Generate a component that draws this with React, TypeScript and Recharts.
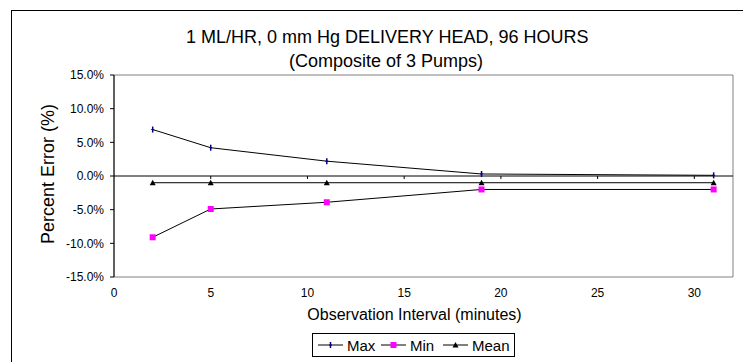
import {
  LineChart, Line, XAxis, YAxis, ReferenceLine, ReferenceArea,
} from 'recharts'

// observation interval (minutes)
const intervals = [2, 5, 11, 19, 31]
// percent error (%)
const maxErr = [6.9, 4.2, 2.2, 0.3, 0.1]
const minErr = [-9.1, -4.9, -3.9, -2.0, -2.0]
const meanErr = [-1.0, -1.0, -1.0, -1.0, -1.0]

const xTicks = [0, 5, 10, 15, 20, 25, 30]
const yTicks = [-15, -10, -5, 0, 5, 10, 15]

const data = intervals.map((x, i) => ({ x, max: maxErr[i], min: minErr[i], mean: meanErr[i] }))

const FONT = '"Liberation Sans", Arial, sans-serif'

// ── markers ───────────────────────────────────────────────

function PlusDot(props: any) {
  const { cx, cy } = props
  if (cx == null || cy == null) return null
  return (
    <g>
      <line x1={cx} y1={cy - 3} x2={cx} y2={cy + 3} stroke="#000080" strokeWidth={1.5} />
      <line x1={cx - 1.5} y1={cy} x2={cx + 1.5} y2={cy} stroke="#000080" strokeWidth={1} />
    </g>
  )
}

function SquareDot(props: any) {
  const { cx, cy } = props
  if (cx == null || cy == null) return null
  return <rect x={cx - 3} y={cy - 3} width={6} height={6} fill="#ff00ff" />
}

function TriDot(props: any) {
  const { cx, cy } = props
  if (cx == null || cy == null) return null
  return <path d={`M${cx - 3},${cy + 2.5} L${cx + 3},${cy + 2.5} L${cx},${cy - 3} Z`} fill="#000" />
}

function LegendItem({ label, kind, left }: { label: string; kind: 'max' | 'min' | 'mean'; left: number }) {
  return (
    <div style={{ position: 'absolute', left, top: 0, height: 22, display: 'flex', alignItems: 'center' }}>
      <svg width={25} height={10} style={{ marginRight: 4 }}>
        <line x1={0} y1={5} x2={25} y2={5} stroke="#000" strokeWidth={1} />
        {kind === 'max' && <PlusDot cx={12.5} cy={5} />}
        {kind === 'min' && <SquareDot cx={12.5} cy={5} />}
        {kind === 'mean' && <TriDot cx={12.5} cy={5} />}
      </svg>
      <span>{label}</span>
    </div>
  )
}

export default function App() {
  return (
    <div style={{ position: 'absolute', left: 0, top: 0, width: 743, height: 362, overflow: 'hidden', background: '#fff', fontFamily: FONT, color: '#000' }}>
      {/* chart area border */}
      <div style={{ position: 'absolute', left: 11, top: 10, width: 760, height: 380, borderLeft: '1px solid #000', borderTop: '1px solid #000' }} />

      <div style={{ position: 'absolute', left: 186, width: 400, top: 25, textAlign: 'center', fontSize: 18, lineHeight: '24px', whiteSpace: 'nowrap' }}>
        1 ML/HR, 0 mm Hg DELIVERY HEAD, 96 HOURS<br />(Composite of 3 Pumps)
      </div>

      <div style={{
        position: 'absolute', left: 48, top: 174, transform: 'translate(-50%, -50%) rotate(-90deg)',
        fontSize: 18, lineHeight: '20px', whiteSpace: 'nowrap',
      }}>
        Percent Error (%)
      </div>

      <div style={{ position: 'absolute', left: 0, top: 0 }}>
        <LineChart width={743} height={362} data={data} margin={{ top: 75, right: 10, left: 54, bottom: 42 }}>
          <ReferenceArea x1={0} x2={32} y1={-15} y2={15} fill="none" stroke="#808080" strokeWidth={1} ifOverflow="visible" />
          <XAxis
            dataKey="x" type="number" domain={[0, 32]} ticks={xTicks} allowDataOverflow
            axisLine={false} tickLine={false} tickSize={6} tickMargin={5} height={43}
            tick={{ fontSize: 12, fill: '#000', fontFamily: FONT }}
            label={{ value: 'Observation Interval (minutes)', position: 'insideBottom', offset: 0, fontSize: 16, fill: '#000', fontFamily: FONT, dx: -9 }}
          />
          <YAxis
            type="number" domain={[-15, 15]} ticks={yTicks} width={60}
            tickFormatter={(v: number) => v.toFixed(1) + '%'}
            axisLine={{ stroke: '#000' }} tickLine={{ stroke: '#000' }} tickSize={4} tickMargin={6}
            tick={{ fontSize: 12, fill: '#000', fontFamily: FONT }}
          />
          <ReferenceLine y={0} stroke="#000" strokeWidth={1} />
          {xTicks.slice(1).map(t => (
            <ReferenceLine key={t} segment={[{ x: t, y: 0 }, { x: t, y: -0.45 }]} stroke="#000" strokeWidth={1} />
          ))}
          <Line dataKey="max" stroke="#000" strokeWidth={1} dot={<PlusDot />} isAnimationActive={false} />
          <Line dataKey="min" stroke="#000" strokeWidth={1} dot={<SquareDot />} isAnimationActive={false} />
          <Line dataKey="mean" stroke="#000" strokeWidth={1} dot={<TriDot />} isAnimationActive={false} />
        </LineChart>
      </div>

      <div style={{
        position: 'absolute', left: 312, top: 333, width: 201, height: 22, border: '1px solid #000',
        fontSize: 15,
      }}>
        <LegendItem label="Max" kind="max" left={5} />
        <LegendItem label="Min" kind="min" left={68} />
        <LegendItem label="Mean" kind="mean" left={130} />
      </div>
    </div>
  )
}
